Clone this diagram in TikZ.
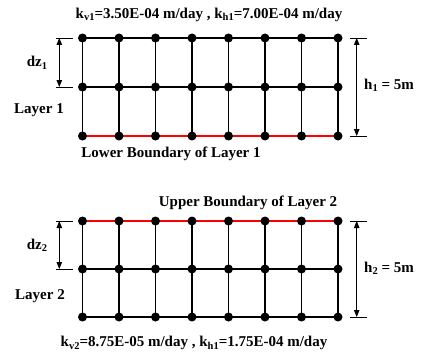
\documentclass[tikz,border=0pt]{standalone}
\usepackage{fontspec}
\setmainfont{Liberation Serif}
\usetikzlibrary{arrows.meta}
\newcommand{\sbx}[1]{\raisebox{-0.35ex}{\fontsize{10.5}{10.5}\selectfont #1}}
\begin{document}
\begin{tikzpicture}[x=1pt,y=-1pt,
  dot/.style={circle,fill=black,inner sep=0pt,minimum size=9pt},
  gridline/.style={line width=1.1pt,black},
  redline/.style={line width=1.8pt,red},
  tick/.style={line width=0.6pt},
  dimarrow/.style={line width=0.8pt,{Triangle[length=7pt,width=5.5pt]}-{Triangle[length=7pt,width=5.5pt]}},
  lbl/.style={font=\bfseries\fontsize{15}{17}\selectfont,inner sep=0pt}]
\useasboundingbox (0,0) rectangle (422,353);
% node positions
\foreach \xx [count=\cc] in {82.5,119,155.5,192,228.5,265,301.5,338}{
  \coordinate (PaA\cc) at (\xx,38);
  \coordinate (PaB\cc) at (\xx,87);
  \coordinate (PaC\cc) at (\xx,136);
  \coordinate (PbA\cc) at (\xx,221);
  \coordinate (PbB\cc) at (\xx,269);
  \coordinate (PbC\cc) at (\xx,317);
}
% layer 1 grid
\draw[gridline] (PaA1) -- (PaA8);
\draw[gridline] (PaB1) -- (PaB8);
\foreach \cc in {1,...,8}{\draw[gridline] (PaA\cc) -- (PaC\cc);}
\draw[redline] (PaC1) -- (PaC8);
% layer 2 grid
\draw[gridline] (PbB1) -- (PbB8);
\draw[gridline] (PbC1) -- (PbC8);
\foreach \cc in {1,...,8}{\draw[gridline] (PbA\cc) -- (PbC\cc);}
\draw[redline] (PbA1) -- (PbA8);
% dots
\foreach \cc in {1,...,8}{
  \foreach \rr in {A,B,C}{
    \node[dot] (Na\rr\cc) at (Pa\rr\cc) {};
    \node[dot] (Nb\rr\cc) at (Pb\rr\cc) {};
  }
}
% dimension lines layer 1
\coordinate (t1a) at (55.5,38); \coordinate (t1b) at (73,38);
\coordinate (t2a) at (55.5,87); \coordinate (t2b) at (73,87);
\draw[tick] (t1a) -- (t1b); \draw[tick] (t2a) -- (t2b);
\coordinate (d1t) at (59.3,38); \coordinate (d1b) at (59.3,87);
\draw[dimarrow] (d1t) -- (d1b);
\coordinate (r1a) at (350,38); \coordinate (r1b) at (367,38);
\coordinate (r2a) at (350,136); \coordinate (r2b) at (367,136);
\draw[tick] (r1a) -- (r1b); \draw[tick] (r2a) -- (r2b);
\coordinate (h1t) at (356.7,38); \coordinate (h1b) at (356.7,136);
\draw[dimarrow] (h1t) -- (h1b);
% dimension lines layer 2
\coordinate (u1a) at (55.5,221); \coordinate (u1b) at (73,221);
\coordinate (u2a) at (55.5,269); \coordinate (u2b) at (73,269);
\draw[tick] (u1a) -- (u1b); \draw[tick] (u2a) -- (u2b);
\coordinate (d2t) at (59.3,221); \coordinate (d2b) at (59.3,269);
\draw[dimarrow] (d2t) -- (d2b);
\coordinate (s1a) at (350,221); \coordinate (s1b) at (367,221);
\coordinate (s2a) at (350,317); \coordinate (s2b) at (367,317);
\draw[tick] (s1a) -- (s1b); \draw[tick] (s2a) -- (s2b);
\coordinate (h2t) at (356.7,221); \coordinate (h2b) at (356.7,317);
\draw[dimarrow] (h2t) -- (h2b);
% labels
\node[lbl] (k1) at (209,15) {k\sbx{v1}=3.50E-04 m/day , k\sbx{h1}=7.00E-04 m/day};
\node[lbl] (dz1) at (37,63) {dz\sbx{1}};
\node[lbl] (L1) at (39,110) {Layer 1};
\node[lbl] (h1) at (389,85) {h\sbx{1} = 5m};
\node[lbl] (lb) at (171,154) {Lower Boundary of Layer 1};
\node[lbl] (ub) at (248,203) {Upper Boundary of Layer 2};
\node[lbl] (dz2) at (37,245) {dz\sbx{2}};
\node[lbl] (L2) at (40,296) {Layer 2};
\node[lbl] (h2) at (389,268) {h\sbx{2} = 5m};
\node[lbl] (k2) at (194,343) {k\sbx{v2}=8.75E-05 m/day , k\sbx{h1}=1.75E-04 m/day};
\end{tikzpicture}
\end{document}
